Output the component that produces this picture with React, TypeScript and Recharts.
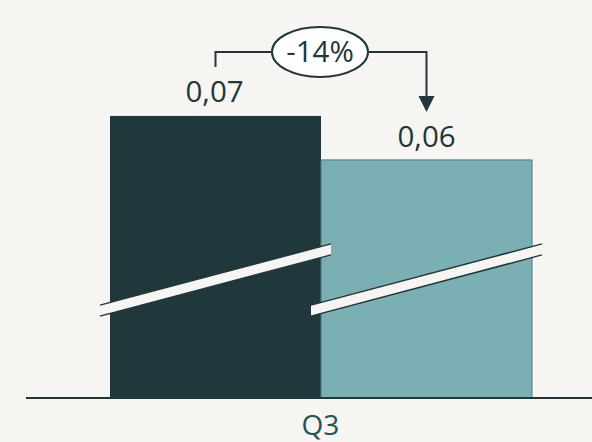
import React from 'react';
import { BarChart, Bar, XAxis, YAxis, LabelList } from 'recharts';

const categories = ['Q3'];
const previousValues = [0.07];
const currentValues = [0.06];
const previousLabels = ['0,07'];
const currentLabels = ['0,06'];
const changeLabels = ['-14%'];

const Y_MIN = 0.0059;
const Y_MAX = 0.0918;

const DARK = '#20383c';
const LIGHT = '#7ab0b4';
const BG = '#f6f5f1';
const FONT = '"Open Sans", "DejaVu Sans", sans-serif';

const data = categories.map((c, i) => ({
  cat: c,
  prev: previousValues[i],
  curr: currentValues[i],
  prevLabel: previousLabels[i],
  currLabel: currentLabels[i],
  change: changeLabels[i],
}));

const SLOPE = 0.265;
const HALF = 5.5;
const BREAK_ABOVE_BASE = 118;

function BreakBand({ x1, x2, cx, cy }: { x1: number; x2: number; cx: number; cy: number }) {
  const yAt = (x: number) => cy - SLOPE * (x - cx);
  const t1 = yAt(x1) - HALF, t2 = yAt(x2) - HALF;
  const b1 = yAt(x1) + HALF, b2 = yAt(x2) + HALF;
  return (
    <g>
      <polygon points={`${x1},${t1} ${x2},${t2} ${x2},${b2} ${x1},${b1}`} fill={BG} stroke="none" />
      <line x1={x1} y1={t1} x2={x2} y2={t2} stroke={DARK} strokeWidth={1.5} />
      <line x1={x1} y1={b1} x2={x2} y2={b2} stroke={DARK} strokeWidth={1.5} />
    </g>
  );
}

function DarkShape(props: any) {
  const { x, y, width, height } = props;
  return <rect x={x} y={y} width={width} height={height} fill={DARK} />;
}

function LightShape(props: any) {
  const { x, y, width, height } = props;
  const base = y + height;
  const cy = base - BREAK_ABOVE_BASE;
  return (
    <g>
      <rect x={x} y={y} width={width} height={height} fill={LIGHT} stroke="#4a7b7f" strokeWidth={1} />
      <BreakBand x1={x - width - 10} x2={x + 10} cx={x - width / 2} cy={cy} />
      <BreakBand x1={x - 10} x2={x + width + 10} cx={x + width / 2} cy={cy} />
    </g>
  );
}

function DarkLabel(props: any) {
  const { x, y, width, height, index } = props;
  const row = data[index];
  const base = y + height;
  const k = height / (row.prev - Y_MIN);
  const yLight = base - (row.curr - Y_MIN) * k;
  const xa = x + width / 2;
  const xb = xa + width;
  const yb = y - 64;
  const ex = (xa + xb) / 2 - 1;
  return (
    <g>
      <text x={xa - 1} y={y - 14} textAnchor="middle" fontSize={29.5} fontFamily={FONT} fill={DARK}>
        {row.prevLabel}
      </text>
      <polyline
        points={`${xa},${y - 49} ${xa},${yb} ${xb},${yb} ${xb},${yLight - 63}`}
        fill="none"
        stroke={DARK}
        strokeWidth={2}
      />
      <polygon points={`${xb - 8},${yLight - 64} ${xb + 8},${yLight - 64} ${xb},${yLight - 48}`} fill={DARK} />
      <ellipse cx={ex} cy={yb} rx={48} ry={25} fill="#ffffff" stroke={DARK} strokeWidth={2} />
      <text x={ex} y={yb + 10.5} textAnchor="middle" fontSize={29.5} fontFamily={FONT} fill={DARK}>
        {row.change}
      </text>
    </g>
  );
}

function LightLabel(props: any) {
  const { x, y, width, index } = props;
  const row = data[index];
  return (
    <text x={x + width / 2} y={y - 13} textAnchor="middle" fontSize={29.5} fontFamily={FONT} fill={DARK}>
      {row.currLabel}
    </text>
  );
}

export default function App() {
  return (
    <div style={{ position: 'absolute', left: 0, top: 0, width: 592, height: 442, background: BG }}>
      <BarChart
        width={592}
        height={442}
        data={data}
        margin={{ top: 20, right: 0, bottom: 0, left: 26 }}
        barGap={0}
        barSize={211}
      >
        <XAxis
          dataKey="cat"
          height={44}
          padding={{ left: 23, right: 0 }}
          axisLine={{ stroke: DARK, strokeWidth: 2 }}
          tickLine={false}
          tickSize={0}
          tickMargin={17}
          tick={{ fontSize: 28, fontFamily: FONT, fill: '#21545a' }}
        />
        <YAxis hide type="number" domain={[Y_MIN, Y_MAX]} allowDataOverflow />
        <Bar dataKey="prev" shape={DarkShape} isAnimationActive={false}>
          <LabelList dataKey="prev" content={DarkLabel} />
        </Bar>
        <Bar dataKey="curr" shape={LightShape} isAnimationActive={false}>
          <LabelList dataKey="curr" content={LightLabel} />
        </Bar>
      </BarChart>
    </div>
  );
}
